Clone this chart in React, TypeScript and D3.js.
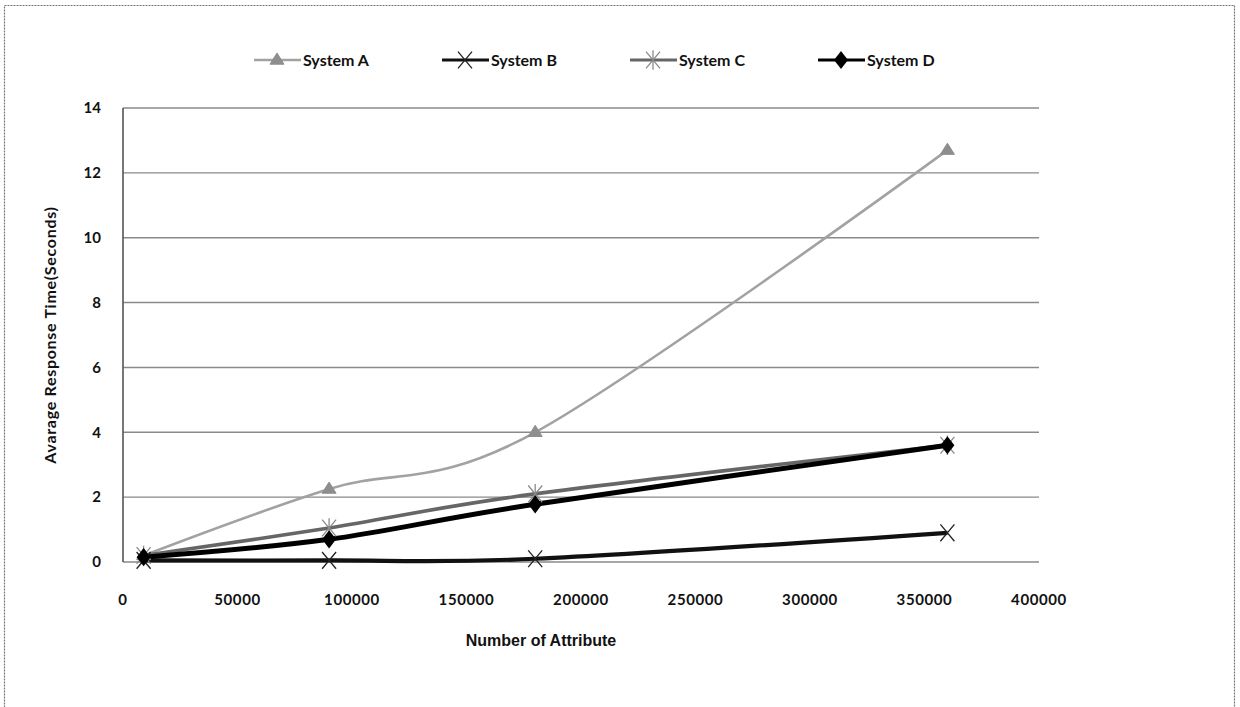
import React from "react";
import * as d3 from "d3";

const xValues = [9000, 90000, 180000, 360000];
const systemA = [0.2, 2.25, 4.0, 12.7];
const systemB = [0.05, 0.05, 0.1, 0.9];
const systemC = [0.2, 1.05, 2.1, 3.6];
const systemD = [0.15, 0.7, 1.78, 3.6];
const seriesNames = ["System A", "System B", "System C", "System D"];
const xTicks = [0, 50000, 100000, 150000, 200000, 250000, 300000, 350000, 400000];
const yTicks = [0, 2, 4, 6, 8, 10, 12, 14];

const W = 1240;
const H = 707;
const left = 123;
const right = 1039;
const top = 108;
const bottom = 562;

const FONT = "Lato, 'Open Sans', sans-serif";

type Style = { stroke: string; width: number; marker: string; mcolor: string };
const styles: Style[] = [
  { stroke: "#a2a2a2", width: 2.6, marker: "triangle", mcolor: "#8e8e8e" },
  { stroke: "#111", width: 4.2, marker: "x", mcolor: "#222" },
  { stroke: "#666", width: 3.6, marker: "star", mcolor: "#8a8a8a" },
  { stroke: "#000", width: 5, marker: "diamond", mcolor: "#000" },
];

function Marker({ kind, x, y, color }: { kind: string; x: number; y: number; color: string }) {
  if (kind === "triangle") {
    const s = 7;
    return <path d={`M${x},${y - s} L${x + s},${y + s * 0.6} L${x - s},${y + s * 0.6} Z`} fill={color} stroke={color} strokeWidth={1} />;
  }
  if (kind === "x") {
    const s = 7;
    return (
      <path d={`M${x - s},${y - s * 1.2} L${x + s},${y + s * 1.2} M${x + s},${y - s * 1.2} L${x - s},${y + s * 1.2}`} stroke={color} strokeWidth={1.3} fill="none" />
    );
  }
  if (kind === "star") {
    const s = 7;
    return (
      <path d={`M${x - s},${y - s * 1.2} L${x + s},${y + s * 1.2} M${x + s},${y - s * 1.2} L${x - s},${y + s * 1.2} M${x},${y - s * 1.4} L${x},${y + s * 1.4}`} stroke={color} strokeWidth={1.3} fill="none" />
    );
  }
  const s = 7;
  return <path d={`M${x},${y - s * 1.3} L${x + s},${y} L${x},${y + s * 1.3} L${x - s},${y} Z`} fill={color} />;
}

export default function App() {
  const x = d3.scaleLinear().domain([0, 400000]).range([left, right]);
  const y = d3.scaleLinear().domain([0, 14]).range([bottom, top]);
  const series = [systemA, systemB, systemC, systemD];
  const line = d3
    .line<[number, number]>()
    .x((d) => x(d[0]))
    .y((d) => y(d[1]))
    .curve(d3.curveCardinal.tension(0));

  const legendX = [254, 442, 630, 818];
  const legendY = 60;

  return (
    <svg width={W} height={H} style={{ position: "absolute", left: 0, top: 0, background: "#fff" }}>
      <rect x={4.5} y={5.5} width={1230} height={720} fill="none" stroke="#777" strokeWidth={1.2} strokeDasharray="2,1" />
      {yTicks.map((t) => (
        <line key={t} x1={left} x2={right} y1={y(t)} y2={y(t)} stroke="#8a8a8a" strokeWidth={1.4} />
      ))}
      <line x1={left} x2={left} y1={top} y2={bottom} stroke="#555" strokeWidth={1.6} />
      {yTicks.map((t) => (
        <text key={t} x={101} y={y(t)} dy="0.35em" textAnchor="end" fontFamily={FONT} fontWeight="bold" fontSize={15} fill="#111">
          {t}
        </text>
      ))}
      {xTicks.map((t) => (
        <text key={t} x={x(t)} y={600} dy="0.35em" textAnchor="middle" fontFamily={FONT} fontWeight="bold" fontSize={15} fill="#111" letterSpacing={0.6}>
          {t}
        </text>
      ))}
      <text x={541} y={640} dy="0.35em" textAnchor="middle" fontFamily="'Liberation Sans', Arial, sans-serif" fontWeight="bold" fontSize={16} fill="#111">
        Number of Attribute
      </text>
      <text transform={`translate(50,${(top + bottom) / 2}) rotate(-90)`} textAnchor="middle" dy="0.35em" fontFamily={FONT} fontWeight="bold" fontSize={16} fill="#111" letterSpacing={0.7}>
        Avarage Response Time(Seconds)
      </text>
      {series.map((vals, i) => (
        <path key={i} d={line(vals.map((v, j) => [xValues[j], v] as [number, number])) || ""} fill="none" stroke={styles[i].stroke} strokeWidth={styles[i].width} strokeLinejoin="round" />
      ))}
      {series.map((vals, i) =>
        vals.map((v, j) => <Marker key={`${i}-${j}`} kind={styles[i].marker} x={x(xValues[j])} y={y(v)} color={styles[i].mcolor} />)
      )}
      {seriesNames.map((name, i) => (
        <g key={name}>
          <line x1={legendX[i]} x2={legendX[i] + 47} y1={legendY} y2={legendY} stroke={styles[i].stroke} strokeWidth={Math.min(styles[i].width, 3)} />
          <Marker kind={styles[i].marker} x={legendX[i] + 23} y={legendY} color={styles[i].mcolor} />
          <text x={legendX[i] + 49} y={legendY} dy="0.35em" fontFamily={FONT} fontWeight="bold" fontSize={16} fill="#111">
            {name}
          </text>
        </g>
      ))}
    </svg>
  );
}
